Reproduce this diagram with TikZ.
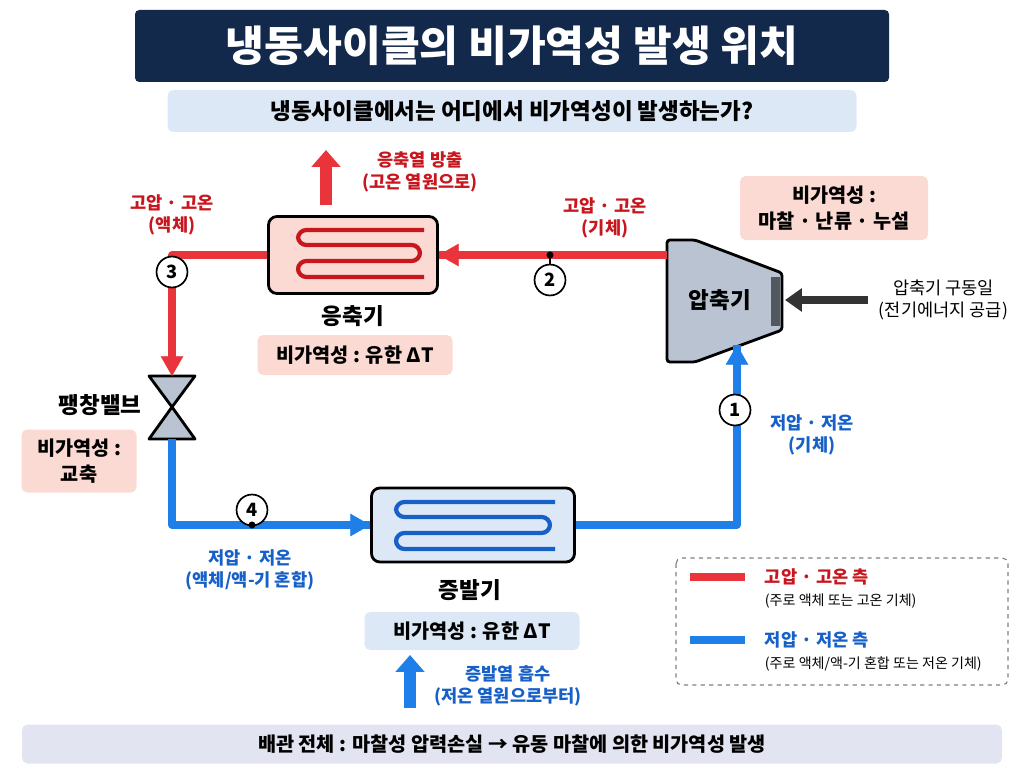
\documentclass[tikz,border=0pt]{standalone}
\usepackage{fontspec}
\setmainfont{Noto Sans CJK KR}
\usetikzlibrary{arrows.meta}
\definecolor{navy}{HTML}{13294B}
\definecolor{hot}{HTML}{E8343A}
\definecolor{hotdark}{HTML}{C8161E}
\definecolor{cold}{HTML}{1E7FE8}
\definecolor{colddark}{HTML}{1760C8}
\definecolor{pinkbox}{HTML}{FADAD3}
\definecolor{bluebox}{HTML}{DDE8F6}
\definecolor{steel}{HTML}{B9C3D1}
\definecolor{lavender}{HTML}{E3E4F2}
\tikzset{
  hotline/.style={draw=hot, line width=5pt},
  coldline/.style={draw=cold, line width=5pt},
  flow/.style={-{Triangle[length=14pt,width=16pt]}},
  irrev/.style={fill=pinkbox, rounded corners=4pt, align=center, font=\bfseries\fontsize{14}{18}\selectfont},
  state/.style={circle, draw, line width=1.2pt, fill=white, minimum size=22pt, inner sep=0pt, font=\bfseries\fontsize{13}{13}\selectfont},
  note/.style={align=center, font=\bfseries\fontsize{12.5}{15.5}\selectfont},
  part/.style={font=\bfseries\fontsize{16}{16}\selectfont},
}
\begin{document}
\begin{tikzpicture}[x=0.025cm, y=-0.025cm]
\useasboundingbox (0,0) rectangle (1024,768);

% title
\node[fill=navy, text=white, minimum width=754*0.025cm, minimum height=72*0.025cm, rounded corners=3pt,
  font=\bfseries\fontsize{30}{30}\selectfont] (title) at (512,46) {냉동사이클의 비가역성 발생 위치};
\node[fill=bluebox, minimum width=689*0.025cm, minimum height=42*0.025cm, rounded corners=4pt,
  font=\bfseries\fontsize{16}{16}\selectfont] (sub) at (512,111) {냉동사이클에서는 어디에서 비가역성이 발생하는가?};

% condenser
\node[draw, line width=2pt, fill=pinkbox, rounded corners=6pt, minimum width=169*0.025cm, minimum height=77*0.025cm] (cond) at (353,255) {};
\draw[hotdark, line width=3pt, rounded corners=6pt] (424,230) -- (298,230) -- (298,245) -- (420,245) -- (420,261) -- (298,261) -- (298,277) -- (424,277);
\node[part] (condlbl) at (353,316) {응축기};
\node[irrev, minimum width=195*0.025cm, minimum height=40*0.025cm] (condirr) at (355,355) {비가역성 : 유한 ΔT};
\coordinate (qh0) at (326,205);
\coordinate (qh1) at (326,150);
\draw[hot, line width=9pt, -{Triangle[length=12pt,width=20pt]}] (qh0) -- (qh1);
\node[note, text=hotdark] (qhtxt) at (420,172) {응축열 방출\\(고온 열원으로)};

% compressor
\draw[line width=2pt, fill=steel, rounded corners=2pt] (667,240) -- (695,240) -- (782,273) -- (782,330) -- (695,362) -- (667,362) -- cycle;
\fill[black!55!steel] (771,277) rectangle (780,326);
\node[part] (comp) at (720,300) {압축기};
\coordinate (compin) at (667,255);
\coordinate (compbot) at (737,345);
\coordinate (compr) at (785,300);
\coordinate (work) at (868,300);
\draw[line width=5pt, -{Triangle[length=12pt,width=16pt]}, black!80] (work) -- (compr);
\node[note, font=\fontsize{12.5}{15.5}\selectfont, anchor=west] (worktxt) at (874,300) {압축기 구동일\\(전기에너지 공급)};
\node[irrev, minimum width=188*0.025cm, minimum height=64*0.025cm] (compirr) at (834,208) {비가역성 :\\마찰 · 난류 · 누설};

% valve
\coordinate (valve) at (172,407);
\draw[line width=2pt, fill=steel, line join=round] (149,376) -- (195,376) -- (172,407) -- cycle (149,439) -- (195,439) -- (172,407) -- cycle;
\node[part] (valvelbl) at (100,405) {팽창밸브};
\node[irrev, minimum width=115*0.025cm, minimum height=63*0.025cm] (valveirr) at (79,461) {비가역성 :\\교축};

% evaporator
\node[draw, line width=2pt, fill=bluebox, rounded corners=6pt, minimum width=203*0.025cm, minimum height=74*0.025cm] (evap) at (473,525) {};
\draw[colddark, line width=3pt, rounded corners=6pt] (555,502) -- (396,502) -- (396,517) -- (550,517) -- (550,533) -- (396,533) -- (396,549) -- (555,549);
\node[part] (evaplbl) at (470,590) {증발기};
\node[irrev, fill=bluebox, minimum width=215*0.025cm, minimum height=38*0.025cm] (evapirr) at (472,631) {비가역성 : 유한 ΔT};
\coordinate (ql0) at (410,708);
\coordinate (ql1) at (410,655);
\draw[cold, line width=9pt, -{Triangle[length=12pt,width=20pt]}] (ql0) -- (ql1);
\node[note, text=colddark] (qltxt) at (508,686) {증발열 흡수\\(저온 열원으로부터)};

% piping
\coordinate (c3) at (172,255);
\coordinate (c4a) at (172,525);
\coordinate (c1) at (737,525);
\draw[hotline] (compin) -- (cond.east);
\draw[hot, flow] (compin) ++(-180,0) -- (cond.east);
\draw[hotline, line join=round] (cond.west) -- (c3) -- (172,365);
\draw[hot, flow] (172,340) -- (172,376);
\draw[coldline, line join=round] (172,439) -- (c4a) -- (evap.west);
\draw[cold, flow] (330,525) -- (evap.west);
\draw[coldline, line join=round] (evap.east) -- (c1) -- (compbot);
\draw[cold, flow] (737,380) -- (compbot);

% state points
\node[state] (s3) at (172,272) {3};
\node[state] (s2) at (550,280) {2};
\draw[line width=1.2pt] (s2.north) -- (550,255);
\fill (550,255) circle (2.5pt);
\node[state] (s4) at (252,510) {4};
\draw[line width=1.2pt] (s4.south) -- (252,525);
\fill (252,525) circle (2.5pt);
\node[state] (s1) at (735,410) {1};

\node[note, text=hotdark] (t3) at (172,215) {고압 · 고온\\(액체)};
\node[note, text=hotdark] (t2) at (605,218) {고압 · 고온\\(기체)};
\node[note, text=colddark] (t4) at (250,570) {저압 · 저온\\(액체/액-기 혼합)};
\node[note, text=colddark] (t1) at (812,435) {저압 · 저온\\(기체)};

% legend
\draw[gray, dashed, rounded corners=4pt, line width=0.8pt] (676,558) rectangle (1008,685);
\coordinate (lh0) at (690,577); \coordinate (lh1) at (745,577);
\coordinate (lc0) at (690,640); \coordinate (lc1) at (745,640);
\draw[hotline] (lh0) -- (lh1);
\draw[coldline] (lc0) -- (lc1);
\node[anchor=west, text=hotdark, font=\bfseries\fontsize{12.5}{12}\selectfont] (lhtxt) at (760,577) {고압 · 고온 측};
\node[anchor=west, font=\fontsize{10}{10}\selectfont] (lhsub) at (760,601) {(주로 액체 또는 고온 기체)};
\node[anchor=west, text=colddark, font=\bfseries\fontsize{12.5}{12}\selectfont] (lctxt) at (760,640) {저압 · 저온 측};
\node[anchor=west, font=\fontsize{10}{10}\selectfont] (lcsub) at (760,664) {(주로 액체/액-기 혼합 또는 저온 기체)};

% bottom bar
\node[fill=lavender, rounded corners=4pt, minimum width=980*0.025cm, minimum height=39*0.025cm,
  font=\bfseries\fontsize{14}{14}\selectfont] (pipe) at (512,744) {배관 전체 : 마찰성 압력손실 → 유동 마찰에 의한 비가역성 발생};
\end{tikzpicture}
\end{document}
